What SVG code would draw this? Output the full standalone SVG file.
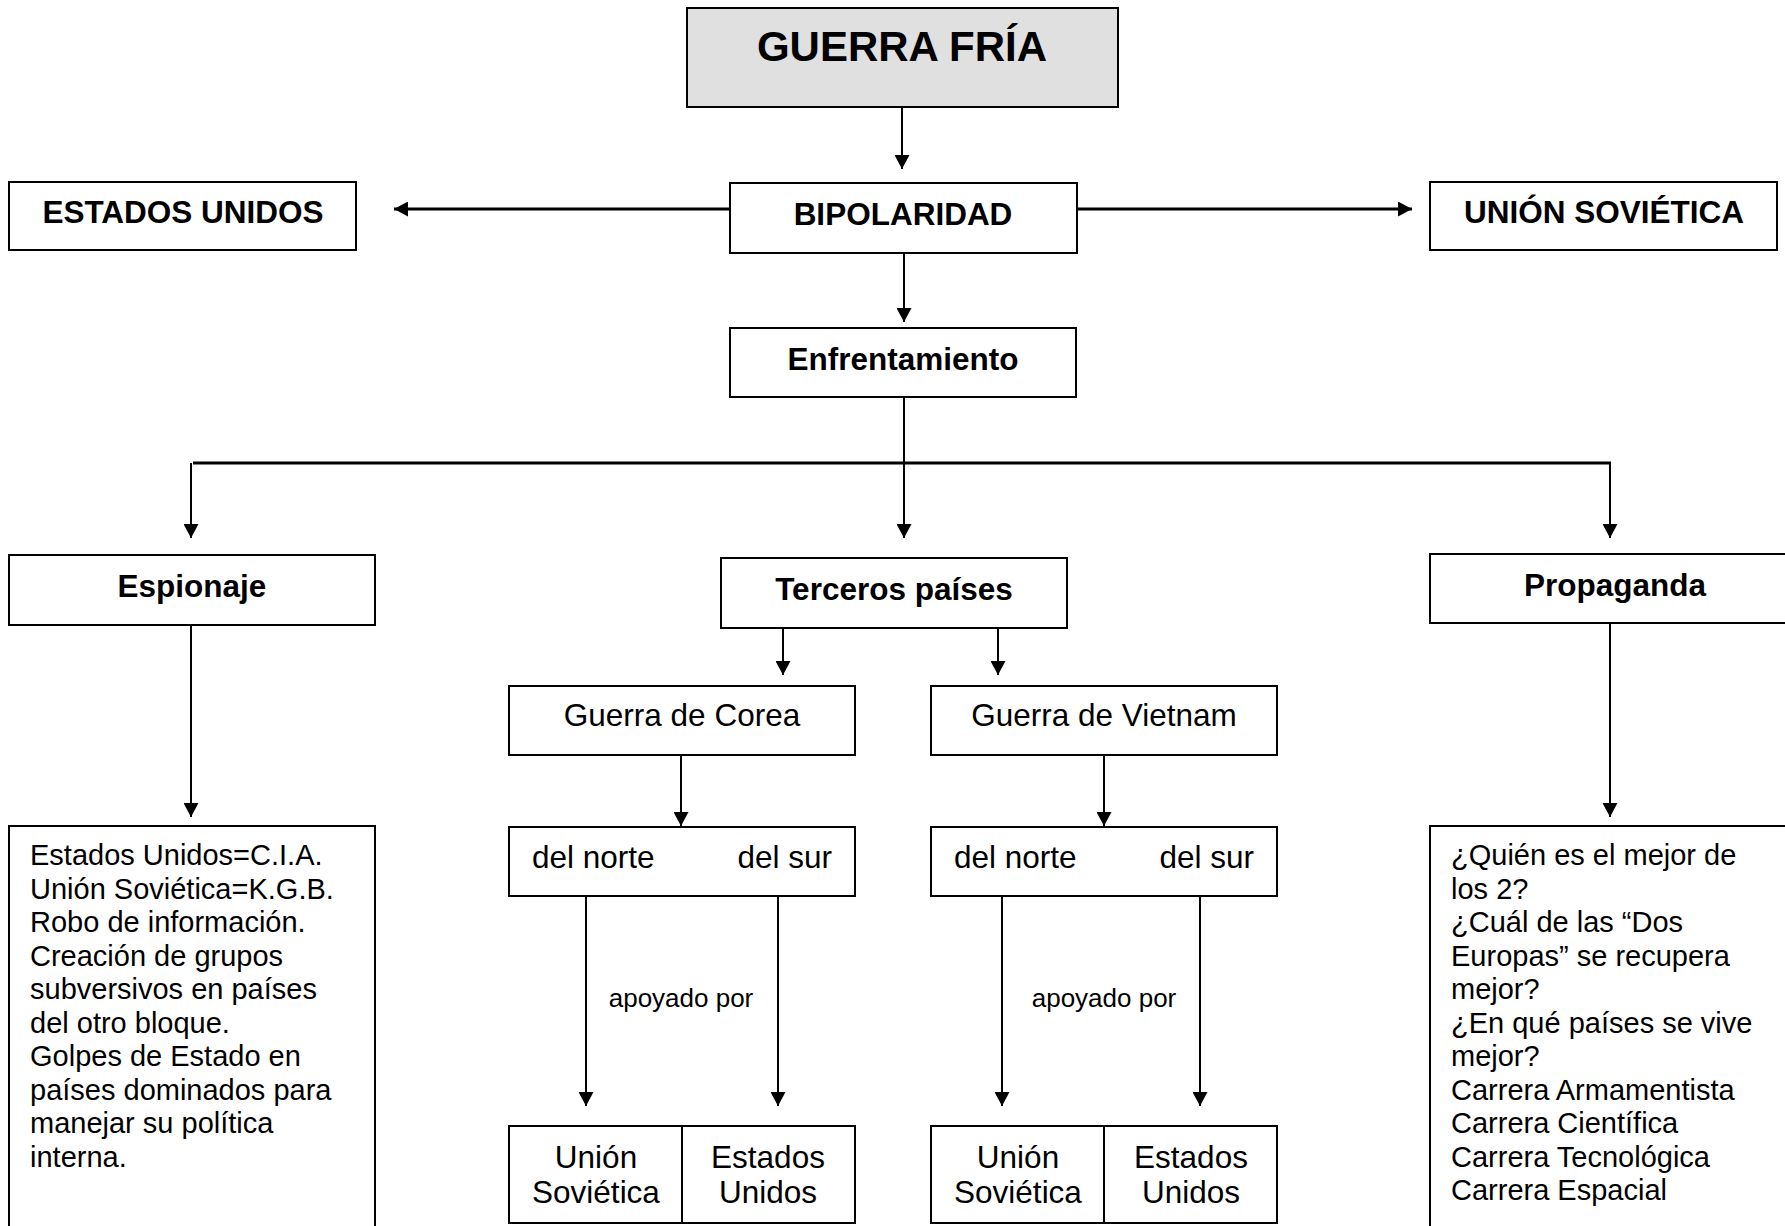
<svg xmlns="http://www.w3.org/2000/svg" width="1785" height="1226" viewBox="0 0 1785 1226">
<style>
  .box { fill: #ffffff; stroke: #000000; stroke-width: 2; }
  .title { fill: #e0e0e0; stroke: #000000; stroke-width: 2; }
  .lbl { font-family: "Liberation Sans", Arial, sans-serif; font-size: 31.5px; fill: #000; }
  .b { font-weight: bold; }
  .mid { text-anchor: middle; }
  .end { text-anchor: end; }
  .small { font-family: "Liberation Sans", Arial, sans-serif; font-size: 26px; fill: #000; text-anchor: middle; }
  .list { font-family: "Liberation Sans", Arial, sans-serif; font-size: 29px; fill: #000; }
  .v { stroke: #000; stroke-width: 2; fill: none; }
  .h { stroke: #000; stroke-width: 3; fill: none; }
</style>
<defs>
  <marker id="arr" markerUnits="userSpaceOnUse" viewBox="0 0 14 15" markerWidth="14" markerHeight="15" refX="14" refY="7.5" orient="auto">
    <path d="M0,0 L14,7.5 L0,15 Z" fill="#000"/>
  </marker>
</defs>
<rect width="1785" height="1226" fill="#ffffff"/>

<g id="connectors">
  <line class="v" x1="902" y1="107" x2="902" y2="169" marker-end="url(#arr)"/>
  <line class="h" x1="730" y1="209" x2="394" y2="209" marker-end="url(#arr)"/>
  <line class="h" x1="1077" y1="209" x2="1412" y2="209" marker-end="url(#arr)"/>
  <line class="v" x1="904" y1="253" x2="904" y2="322" marker-end="url(#arr)"/>
  <line class="v" x1="904" y1="397" x2="904" y2="538" marker-end="url(#arr)"/>
  <line class="h" x1="193" y1="463" x2="1611" y2="463"/>
  <line class="v" x1="191" y1="463" x2="191" y2="538" marker-end="url(#arr)"/>
  <line class="v" x1="1610" y1="463" x2="1610" y2="538" marker-end="url(#arr)"/>
  <line class="v" x1="783" y1="628" x2="783" y2="675" marker-end="url(#arr)"/>
  <line class="v" x1="998" y1="628" x2="998" y2="675" marker-end="url(#arr)"/>
  <line class="v" x1="191" y1="625" x2="191" y2="817" marker-end="url(#arr)"/>
  <line class="v" x1="1610" y1="623" x2="1610" y2="817" marker-end="url(#arr)"/>
  <line class="v" x1="681" y1="755" x2="681" y2="826" marker-end="url(#arr)"/>
  <line class="v" x1="1104" y1="755" x2="1104" y2="826" marker-end="url(#arr)"/>
  <line class="v" x1="586" y1="896" x2="586" y2="1106" marker-end="url(#arr)"/>
  <line class="v" x1="778" y1="896" x2="778" y2="1106" marker-end="url(#arr)"/>
  <line class="v" x1="1002" y1="896" x2="1002" y2="1106" marker-end="url(#arr)"/>
  <line class="v" x1="1200" y1="896" x2="1200" y2="1106" marker-end="url(#arr)"/>
  <text class="small" x="681" y="1007">apoyado por</text>
  <text class="small" x="1104" y="1007">apoyado por</text>
</g>

<g id="guerra-fria">
  <rect class="title" x="687" y="8" width="431" height="99"/>
  <text class="lbl b mid" x="902" y="61" style="font-size:42px">GUERRA FRÍA</text>
</g>
<g id="estados-unidos">
  <rect class="box" x="9" y="182" width="347" height="68"/>
  <text class="lbl b mid" x="183" y="223">ESTADOS UNIDOS</text>
</g>
<g id="bipolaridad">
  <rect class="box" x="730" y="183" width="347" height="70"/>
  <text class="lbl b mid" x="903" y="225">BIPOLARIDAD</text>
</g>
<g id="union-sovietica">
  <rect class="box" x="1430" y="182" width="347" height="68"/>
  <text class="lbl b mid" x="1604" y="223">UNIÓN SOVIÉTICA</text>
</g>
<g id="enfrentamiento">
  <rect class="box" x="730" y="328" width="346" height="69"/>
  <text class="lbl b mid" x="903" y="370">Enfrentamiento</text>
</g>
<g id="espionaje">
  <rect class="box" x="9" y="555" width="366" height="70"/>
  <text class="lbl b mid" x="192" y="597">Espionaje</text>
</g>
<g id="terceros">
  <rect class="box" x="721" y="558" width="346" height="70"/>
  <text class="lbl b mid" x="894" y="600">Terceros países</text>
</g>
<g id="propaganda">
  <rect class="box" x="1430" y="554" width="380" height="69"/>
  <text class="lbl b mid" x="1615" y="596">Propaganda</text>
</g>
<g id="corea">
  <rect class="box" x="509" y="686" width="346" height="69"/>
  <text class="lbl mid" x="682" y="726">Guerra de Corea</text>
</g>
<g id="vietnam">
  <rect class="box" x="931" y="686" width="346" height="69"/>
  <text class="lbl mid" x="1104" y="726">Guerra de Vietnam</text>
</g>
<g id="corea-lados">
  <rect class="box" x="509" y="827" width="346" height="69"/>
  <text class="lbl" x="532" y="868">del norte</text>
  <text class="lbl end" x="832" y="868">del sur</text>
</g>
<g id="vietnam-lados">
  <rect class="box" x="931" y="827" width="346" height="69"/>
  <text class="lbl" x="954" y="868">del norte</text>
  <text class="lbl end" x="1254" y="868">del sur</text>
</g>
<g id="corea-apoyos">
  <rect class="box" x="509" y="1126" width="346" height="97"/>
  <line x1="682" y1="1126" x2="682" y2="1223" stroke="#000" stroke-width="2"/>
  <text class="lbl mid" x="596" y="1168">Unión</text>
  <text class="lbl mid" x="596" y="1203">Soviética</text>
  <text class="lbl mid" x="768" y="1168">Estados</text>
  <text class="lbl mid" x="768" y="1203">Unidos</text>
</g>
<g id="vietnam-apoyos">
  <rect class="box" x="931" y="1126" width="346" height="97"/>
  <line x1="1104" y1="1126" x2="1104" y2="1223" stroke="#000" stroke-width="2"/>
  <text class="lbl mid" x="1018" y="1168">Unión</text>
  <text class="lbl mid" x="1018" y="1203">Soviética</text>
  <text class="lbl mid" x="1191" y="1168">Estados</text>
  <text class="lbl mid" x="1191" y="1203">Unidos</text>
</g>
<g id="espionaje-detalle">
  <rect class="box" x="9" y="826" width="366" height="420"/>
  <text class="list" x="30" y="865">Estados Unidos=C.I.A.</text>
  <text class="list" x="30" y="898.5">Unión Soviética=K.G.B.</text>
  <text class="list" x="30" y="932">Robo de información.</text>
  <text class="list" x="30" y="965.5">Creación de grupos</text>
  <text class="list" x="30" y="999">subversivos en países</text>
  <text class="list" x="30" y="1032.5">del otro bloque.</text>
  <text class="list" x="30" y="1066">Golpes de Estado en</text>
  <text class="list" x="30" y="1099.5">países dominados para</text>
  <text class="list" x="30" y="1133">manejar su política</text>
  <text class="list" x="30" y="1166.5">interna.</text>
</g>
<g id="propaganda-detalle">
  <rect class="box" x="1430" y="826" width="400" height="420"/>
  <text class="list" x="1451" y="865">¿Quién es el mejor de</text>
  <text class="list" x="1451" y="898.5">los 2?</text>
  <text class="list" x="1451" y="932">¿Cuál de las “Dos</text>
  <text class="list" x="1451" y="965.5">Europas” se recupera</text>
  <text class="list" x="1451" y="999">mejor?</text>
  <text class="list" x="1451" y="1032.5">¿En qué países se vive</text>
  <text class="list" x="1451" y="1066">mejor?</text>
  <text class="list" x="1451" y="1099.5">Carrera Armamentista</text>
  <text class="list" x="1451" y="1133">Carrera Científica</text>
  <text class="list" x="1451" y="1166.5">Carrera Tecnológica</text>
  <text class="list" x="1451" y="1200">Carrera Espacial</text>
</g>
</svg>
